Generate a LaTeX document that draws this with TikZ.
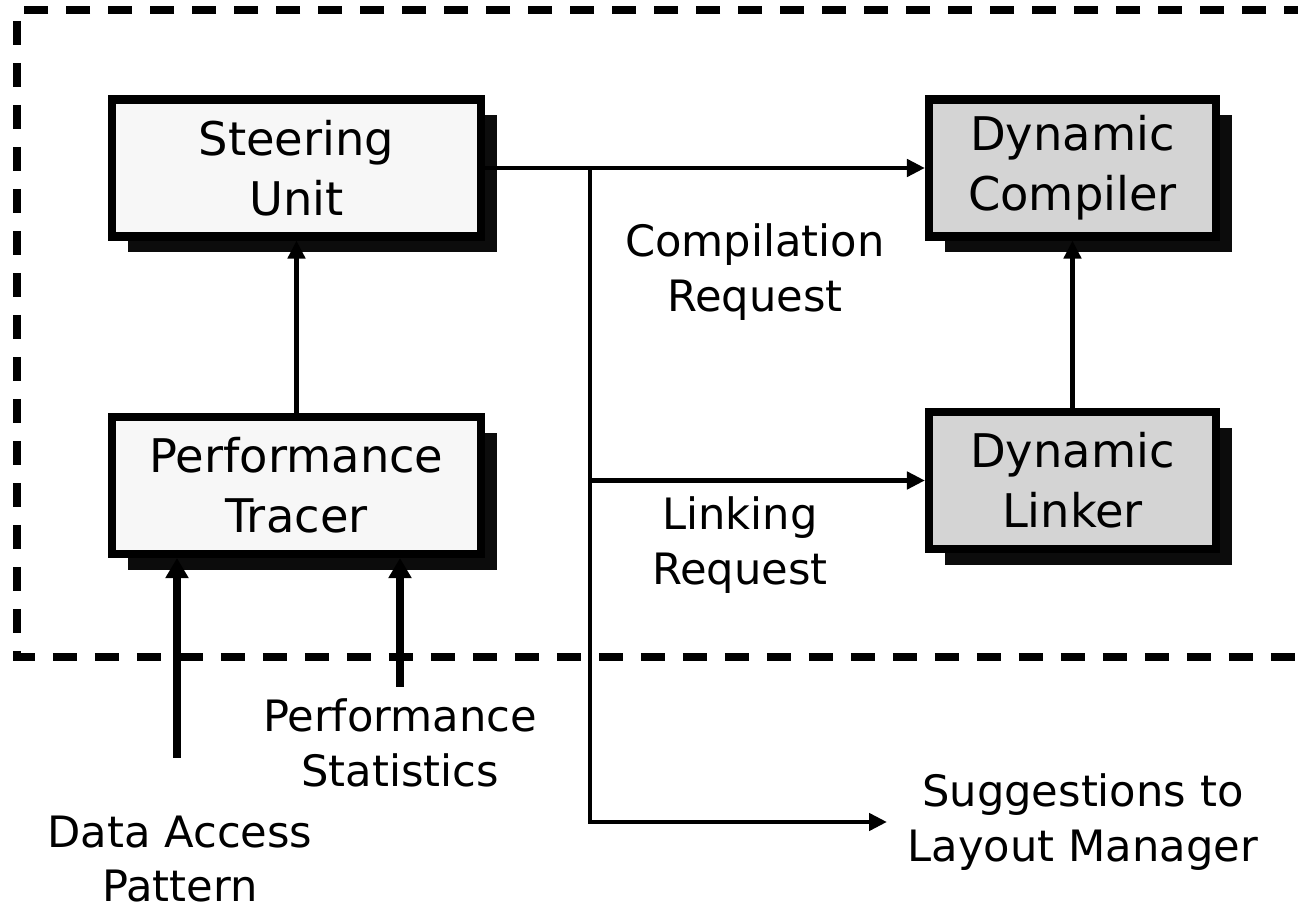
\documentclass[tikz,border=0pt]{standalone}
\usepackage{fontspec}
\setmainfont{DejaVu Sans}
\definecolor{boxlight}{RGB}{247,247,247}
\definecolor{boxgrey}{RGB}{212,212,212}
\definecolor{shadowblack}{RGB}{12,12,12}
\usetikzlibrary{
    arrows.meta,
    positioning,
    calc,
    shadows
}

\begin{document}
\begin{tikzpicture}[
    unitbox/.style={draw=black, line width=2.3pt, minimum width=3.69cm, minimum height=1.37cm,
        inner sep=0pt, align=center, font=\fontsize{13.2}{17}\selectfont,
        drop shadow={shadow xshift=0.16cm, shadow yshift=-0.16cm, fill=shadowblack, opacity=1}},
    note/.style={align=center, font=\fontsize{12.3}{15.5}\selectfont},
    flow/.style={line width=1.4pt, -{Triangle[length=0.18cm, width=0.17cm]}},
    feed/.style={line width=2.5pt, -{Triangle[length=0.2cm, width=0.22cm]}}
]
    \useasboundingbox (0,0) rectangle (12.98,9.12);

    % Dashed boundary, open to the right
    \begin{scope}
        \clip (0,0) rectangle (12.98,9.12);
        \draw[line width=2pt, dash pattern=on 0.24cm off 0.18cm]
            (13.5,9.02) -| (0.17,2.55) -- (13.5,2.55);
    \end{scope}

    % Units
    \node[unitbox, fill=boxlight] (steer) at (2.965,7.44) {Steering\\Unit};
    \node[unitbox, fill=boxlight] (perf) at (2.965,4.265) {Performance\\Tracer};
    \node[unitbox, fill=boxgrey, minimum width=2.87cm] (comp) at (10.725,7.44) {Dynamic\\Compiler};
    \node[unitbox, fill=boxgrey, minimum width=2.87cm] (link) at (10.725,4.315) {Dynamic\\Linker};

    % Labels
    \node[note] (creq) at (7.55,6.40) {Compilation\\Request};
    \node[note] (lreq) at (7.40,3.67) {Linking\\Request};
    \node[note] (pstat) at (4.00,1.69) {Performance\\Statistics};
    \node[note] (dap) at (1.80,0.53) {Data Access\\Pattern};
    \node[note, anchor=west, inner xsep=0.2cm] (sugg) at (8.87,0.90) {Suggestions to\\Layout Manager};

    % Requests from the steering unit
    \coordinate (split) at (5.90,7.44);
    \draw[flow] (steer.east) -- (comp.west);
    \draw[flow] (split) |- (link.west);
    \draw[flow] (split) |- (sugg.west);
    \draw[flow] (perf.north) -- (steer.south);
    \draw[flow] (link.north) -- (comp.south);

    % Inputs to the tracer
    \coordinate (dapin) at (1.77,1.54);
    \coordinate (pstatin) at (4.00,2.25);
    \draw[feed] (dapin) -- (dapin |- perf.south);
    \draw[feed] (pstatin) -- (pstatin |- perf.south);
\end{tikzpicture}
\end{document}
